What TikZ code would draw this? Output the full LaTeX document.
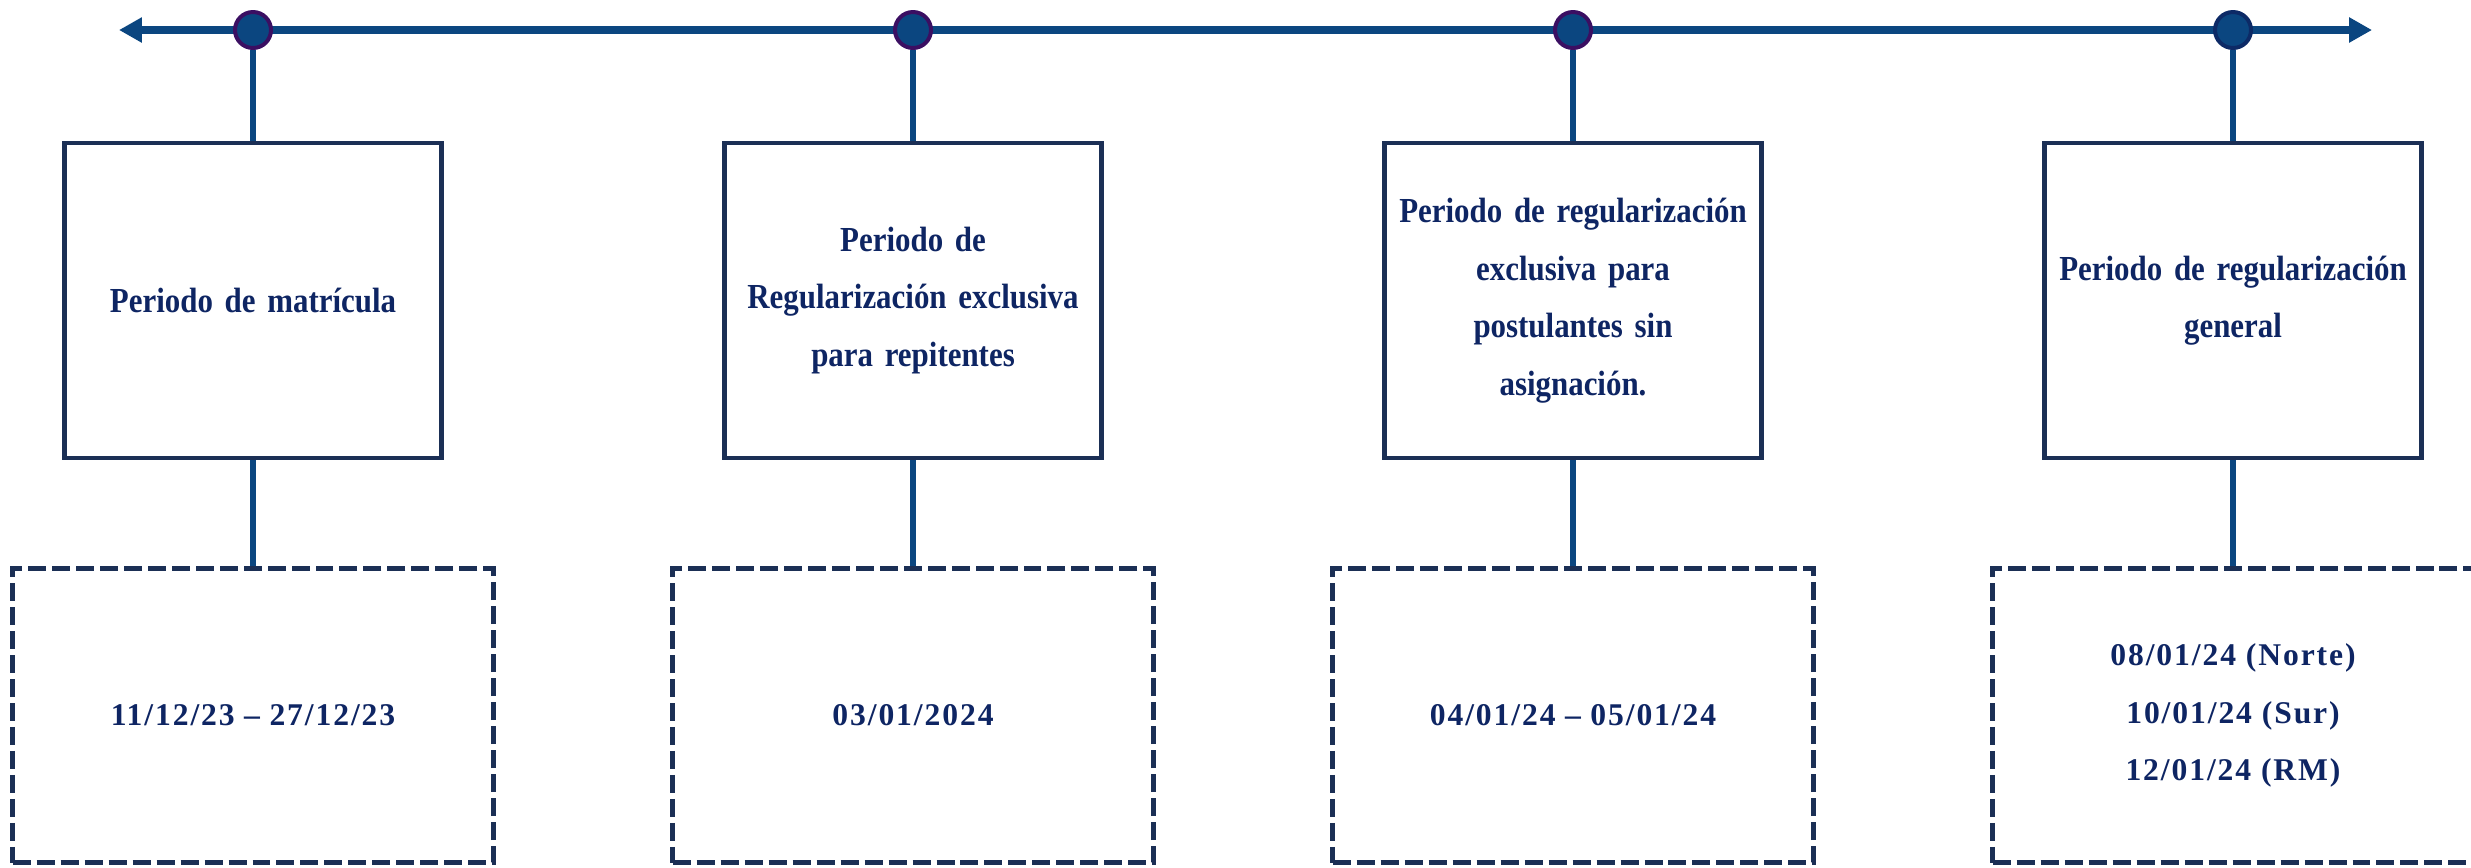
\documentclass[tikz,border=0pt]{standalone}
\usepackage{fontspec}
\newfontfamily\titlefont[FakeStretch=0.88]{Liberation Serif}
\newfontfamily\datefont[LetterSpace=6]{Liberation Serif}
\usetikzlibrary{arrows.meta}

\definecolor{linecol}{HTML}{0B4680}
\definecolor{dotrim}{HTML}{3B0F62}
\definecolor{dotrimb}{HTML}{0D2A66}
\definecolor{boxcol}{HTML}{1B2F55}
\definecolor{textcol}{HTML}{0E2563}

\tikzset{
  period/.style={draw=boxcol, line width=0.09cm, minimum width=7.54cm, minimum height=6.3cm,
    align=center, text width=7.1cm, text=textcol,
    font=\titlefont\bfseries\fontsize{20}{32.7}\selectfont},
  datebox/.style={draw=boxcol, line width=0.1cm, dash pattern=on 0.36cm off 0.12cm,
    minimum width=9.62cm, minimum height=5.9cm, align=center, text=textcol,
    font=\datefont\bfseries\fontsize{18}{32.8}\selectfont},
  dot/.style={circle, fill=linecol, draw=dotrim, line width=0.08cm, minimum size=0.72cm, inner sep=0pt},
  stem/.style={linecol, line width=0.13cm},
  axis/.style={linecol, line width=0.17cm,
    {Triangle[length=0.46cm, width=0.48cm]}-{Triangle[length=0.46cm, width=0.48cm]}},
}
\newcommand{\upto}{\hspace{0.3em}–\hspace{0.3em}}

\begin{document}
\begin{tikzpicture}[x=0.02cm, y=-0.02cm]
    \clip (0,0) rectangle (2471,867);

    % Draw timeline
    \coordinate (tl) at (119,30);
    \coordinate (tr) at (2372,30);
    \draw[axis] (tl) -- (tr);

    % Draw nodes
    \node[dot] (d1) at (253,30) {};
    \node[dot] (d2) at (913,30) {};
    \node[dot] (d3) at (1573,30) {};
    \node[dot, draw=dotrimb] (d4) at (2233,30) {}; % Last point has a navy rim

    \node[period] (p1) at (253,300.5) {Periodo de matrícula};
    \node[period] (p2) at (913,300.5) {Periodo de\\ Regularización exclusiva\\ para repitentes};
    \node[period] (p3) at (1573,300.5) {Periodo de regularización\\ exclusiva para\\ postulantes sin\\ asignación.};
    \node[period] (p4) at (2233,300.5) {Periodo de regularización\\ general};

    \node[datebox] (q1) at (253,715.5) {11/12/23\upto 27/12/23};
    \node[datebox] (q2) at (913,715.5) {03/01/2024};
    \node[datebox] (q3) at (1573,715.5) {04/01/24\upto 05/01/24};
    \node[datebox] (q4) at (2233,715.5) {08/01/24 (Norte)\\ 10/01/24 (Sur)\\ 12/01/24 (RM)};

    % Draw edges
    \draw[stem] (d1) -- (p1);
    \draw[stem] (d2) -- (p2);
    \draw[stem] (d3) -- (p3);
    \draw[stem] (d4) -- (p4);
    \draw[stem] (p1) -- (q1);
    \draw[stem] (p2) -- (q2);
    \draw[stem] (p3) -- (q3);
    \draw[stem] (p4) -- (q4);
\end{tikzpicture}
\end{document}
